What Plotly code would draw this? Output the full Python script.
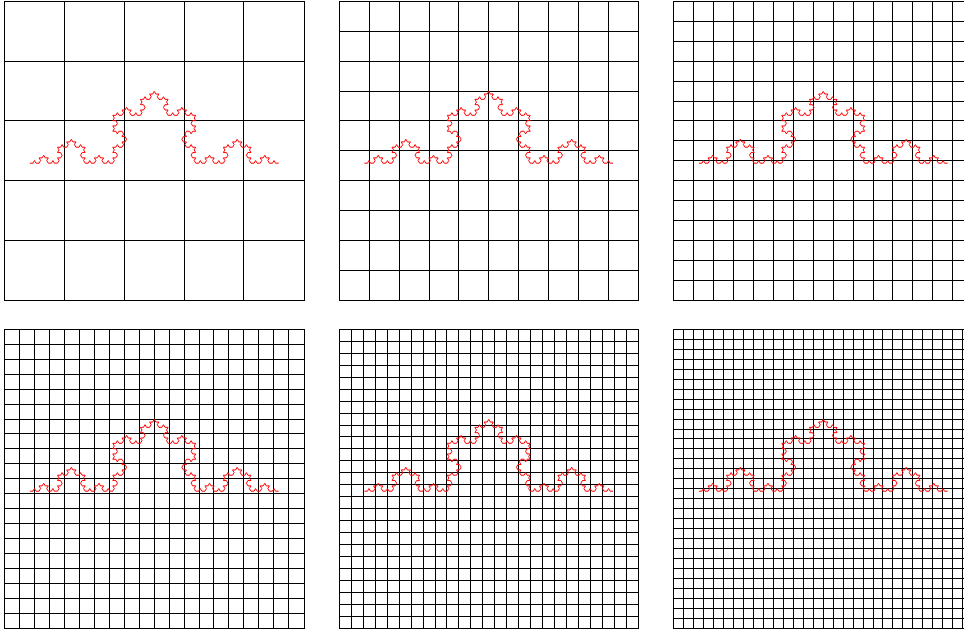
import numpy as np
import plotly.graph_objects as go

# ---- data / parameters ----
grid_sizes = [5, 10, 15, 20, 25, 30]      # boxes per side in each panel
koch_order = 4                             # iterations of the Koch construction
koch_start = [0.0, 0.0]                    # curve end points
koch_end = [1.0, 0.0]
box_x = [-0.1, 1.1]                        # covering box extent
box_y = [-0.55, 0.65]


def koch_curve(p0, p1, order):
    pts = [np.array(p0, float), np.array(p1, float)]
    rot = np.array([[0.5, -np.sqrt(3) / 2], [np.sqrt(3) / 2, 0.5]])
    for _ in range(order):
        new = [pts[0]]
        for a, b in zip(pts[:-1], pts[1:]):
            d = (b - a) / 3.0
            p1_ = a + d
            p3_ = a + 2 * d
            p2_ = p1_ + rot @ d
            new += [p1_, p2_, p3_, b]
        pts = new
    arr = np.array(pts)
    return arr[:, 0], arr[:, 1]


kx, ky = koch_curve(koch_start, koch_end, koch_order)

W, H = 964, 629
col_left = [5, 339.5, 674]
row_top = [1.5, 329.5]
panel = 298.5

fig = go.Figure()
for i, n in enumerate(grid_sizes):
    r, c = divmod(i, 3)
    x0 = col_left[c]
    x1 = min(x0 + panel, W)
    y0 = row_top[r]
    y1 = y0 + panel
    xr1 = box_x[0] + (box_x[1] - box_x[0]) * (x1 - x0) / panel
    ax = "" if i == 0 else str(i + 1)
    fig.add_trace(go.Scatter(x=kx, y=ky, mode="lines",
                             line=dict(color="#ff0000", width=1),
                             xaxis="x" + ax, yaxis="y" + ax,
                             showlegend=False, hoverinfo="skip"))
    step = (box_x[1] - box_x[0]) / n
    stepy = (box_y[1] - box_y[0]) / n
    fig.layout["xaxis" + ax] = dict(
        domain=[x0 / W, x1 / W], range=[box_x[0], xr1],
        tick0=box_x[0], dtick=step, showgrid=True, gridcolor="black",
        gridwidth=1, showticklabels=False, ticks="", zeroline=False,
        showline=True, linecolor="black", linewidth=1, mirror=True,
        anchor="y" + ax, fixedrange=True)
    fig.layout["yaxis" + ax] = dict(
        domain=[1 - y1 / H, 1 - y0 / H], range=box_y,
        tick0=box_y[0], dtick=stepy, showgrid=True, gridcolor="black",
        gridwidth=1, showticklabels=False, ticks="", zeroline=False,
        showline=True, linecolor="black", linewidth=1,
        mirror=(c != 2), anchor="x" + ax, fixedrange=True)

fig.update_layout(width=W, height=H, margin=dict(l=0, r=0, t=0, b=0),
                  plot_bgcolor="white", paper_bgcolor="white")
fig.write_html("out.html",
               config={"displayModeBar": False, "staticPlot": True},
               post_script="document.body.style.margin='0';"
                           "document.body.style.overflow='hidden';")
